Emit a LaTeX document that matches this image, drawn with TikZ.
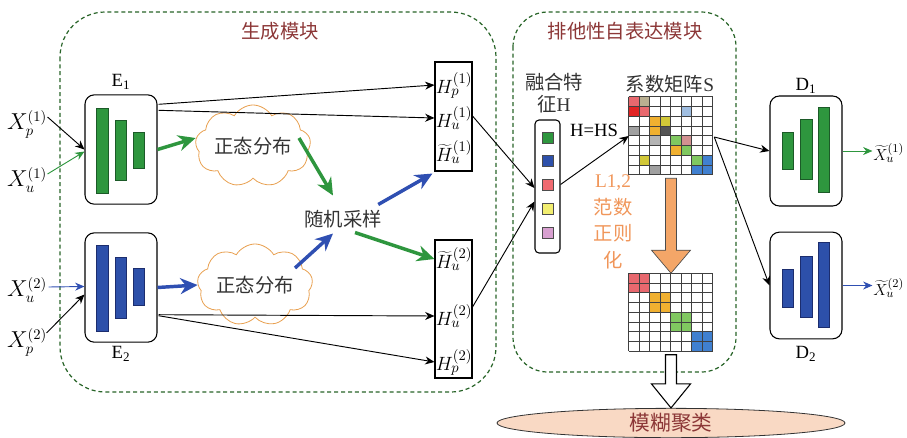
\documentclass[tikz,border=0pt]{standalone}
\usepackage{fontspec}
\setmainfont{Liberation Serif}
\newfontfamily\cjk{Noto Sans CJK SC}
\usetikzlibrary{arrows.meta,shapes.symbols,shapes.geometric,calc}
\newcommand{\zhs}[1]{{\cjk #1}}
\definecolor{gbar}{RGB}{46,150,62}
\definecolor{gbard}{RGB}{28,90,40}
\definecolor{bbar}{RGB}{45,80,170}
\definecolor{bbard}{RGB}{28,45,110}
\definecolor{garr}{RGB}{46,150,62}
\definecolor{barr}{RGB}{47,79,178}
\definecolor{dgreen}{RGB}{40,100,40}
\definecolor{ttl}{RGB}{140,55,55}
\definecolor{org}{RGB}{244,166,104}
\definecolor{orgtxt}{RGB}{240,150,90}
\definecolor{cloudc}{RGB}{232,160,80}
\definecolor{cpink}{RGB}{232,104,110}
\definecolor{cred}{RGB}{225,35,35}
\definecolor{ctan}{RGB}{185,175,145}
\definecolor{clblue}{RGB}{160,190,225}
\definecolor{corange}{RGB}{240,176,48}
\definecolor{colive}{RGB}{210,200,56}
\definecolor{cgray}{RGB}{160,160,160}
\definecolor{cdgray}{RGB}{85,85,85}
\definecolor{clgray}{RGB}{180,180,180}
\definecolor{cgreen}{RGB}{128,200,96}
\definecolor{cmauve}{RGB}{210,145,145}
\definecolor{cblue}{RGB}{64,128,208}
\definecolor{fgreen}{RGB}{46,150,62}
\definecolor{fblue}{RGB}{45,80,170}
\definecolor{fpink}{RGB}{240,106,112}
\definecolor{fyellow}{RGB}{242,238,112}
\definecolor{fpurple}{RGB}{216,160,208}
\definecolor{ellfill}{RGB}{249,217,196}
\begin{document}
\begin{tikzpicture}[x=0.75pt,y=-0.75pt,
  every node/.style={font=\fontsize{14}{16.5}\selectfont, inner sep=1pt},
  modbox/.style={draw=dgreen, dash pattern=on 3pt off 2.2pt, line width=0.9pt},
  ttlst/.style={text=ttl, font=\cjk\fontsize{14.5}{17}\selectfont},
  cjkt/.style={text=black!80, font=\cjk\fontsize{14.5}{17}\selectfont},
  encbox/.style={draw, rounded corners=7pt, line width=0.8pt, minimum width=54pt, minimum height=82pt, inner sep=0},
  gbarst/.style={draw=gbard, fill=gbar, line width=0.5pt},
  bbarst/.style={draw=bbard, fill=bbar, line width=0.5pt},
  thinarr/.style={draw, line width=0.7pt, -{Stealth[length=7pt,width=6pt]}},
  thickg/.style={draw=garr, line width=2.6pt, -{Stealth[length=13pt,width=12pt]}},
  thickb/.style={draw=barr, line width=2.6pt, -{Stealth[length=13pt,width=12pt]}},
  cloudst/.style={cloud, cloud puffs=9, cloud puff arc=120, aspect=1.7, draw=cloudc, line width=0.6pt, minimum width=70pt, minimum height=42pt, inner sep=0, text=black!80, font=\cjk\fontsize{14.5}{17}\selectfont},
  hbox/.style={draw, line width=0.8pt, minimum width=27.75pt, inner sep=0},
  gridst/.style={draw=black!75, line width=0.5pt},
  sq/.style={draw=black!70, line width=0.4pt, minimum size=8.25pt, inner sep=0},
  mathl/.style={font=\fontsize{16}{18}\selectfont}
]
\useasboundingbox (0,0) rectangle (907,437);

% module frames
\draw[modbox, rounded corners=34pt] (60,12) rectangle (496,392);
\draw[modbox, rounded corners=26pt] (513,12) rectangle (736,372);
\node[ttlst] (t1) at (280,31) {生成模块};
\node[ttlst] (t2) at (625,31) {排他性自表达模块};

% encoders
\node[encbox] (E1) at (121,149.5) {};
\node[encbox] (E2) at (121,287.5) {};
\node (e1l) at (121,82) {E\textsubscript{1}};
\node (e2l) at (121,354) {E\textsubscript{2}};
\draw[gbarst] (96,108) rectangle (108,193);
\draw[gbarst] (115,120) rectangle (126,180);
\draw[gbarst] (133,132) rectangle (144,168);
\draw[bbarst] (96,245) rectangle (108,331);
\draw[bbarst] (115,257) rectangle (126,318);
\draw[bbarst] (133,268) rectangle (144,305);

% inputs
\node[mathl] (xp1) at (27,124) {$X_p^{(1)}$};
\node[mathl] (xu1) at (27,180) {$X_u^{(1)}$};
\node[mathl] (xu2) at (27,290) {$X_u^{(2)}$};
\node[mathl] (xp2) at (27,342) {$X_p^{(2)}$};
\draw[thinarr] ($(xp1.east)+(-1,-7)$) -- ($(E1.west)+(0,0)$);
\draw[thinarr, draw=garr] ($(xu1.east)+(-1,-6)$) -- ($(E1.west)+(0,2)$);
\draw[thinarr, draw=barr] ($(xu2.east)+(0,-3)$) -- ($(E2.west)+(0,-1)$);
\draw[thinarr] ($(xp2.east)+(-2,-9)$) -- ($(E2.west)+(0,7)$);

% clouds
\node[cloudst] (c1) at (253,146) {正态分布};
\node[cloudst] (c2) at (255,285) {正态分布};
\node[cjkt] (rs) at (343,219) {随机采样};

% H boxes
\node[hbox, minimum height=81.75pt] (H1) at (453.5,116.5) {};
\node[hbox, minimum height=103.5pt] (H2) at (453.5,309) {};
\node[mathl, font=\fontsize{15}{17}\selectfont] (hp1) at (454,85) {$H_p^{(1)}$};
\node[mathl, font=\fontsize{15}{17}\selectfont] (hu1) at (454,118) {$H_u^{(1)}$};
\node[mathl, font=\fontsize{15}{17}\selectfont] (ht1) at (454,152) {$\widetilde{H}_u^{(1)}$};
\node[mathl, font=\fontsize{15}{17}\selectfont] (ht2) at (454,259) {$\widetilde{H}_u^{(2)}$};
\node[mathl, font=\fontsize{15}{17}\selectfont] (hu2) at (454,316) {$H_u^{(2)}$};
\node[mathl, font=\fontsize{15}{17}\selectfont] (hp2) at (454,362) {$H_p^{(2)}$};

% encoder -> H
\draw[thinarr] ($(E1.north east)+(1,10)$) -- (H1.west |- hp1);
\draw[thinarr] ($(E1.north east)+(1,16)$) -- (H1.west |- hu1);
\draw[thinarr] ($(E2.south east)+(1,-28)$) -- (H2.west |- hu2);
\draw[thinarr] ($(E2.south east)+(1,-27)$) -- (H2.west |- hp2);

% thick arrows
\draw[thickg] (E1.east) -- ($(c1.west)+(0,-8)$);
\draw[thickb] (E2.east) -- (c2.west);
\draw[thickg] ($(c1.center)+(46,-8)$) -- ($(rs.north)+(-10,-13)$);
\draw[thickb] ($(rs.north east)+(-5,-4)$) -- ($(H1.south west)+(-2,2)$);
\draw[thickb] ($(c2.center)+(40,-17)$) -- ($(rs.south)+(-10,4)$);
\draw[thickg] ($(rs.south)+(12,3)$) -- (H2.west |- ht2);

% fused feature
\node[draw, line width=0.8pt, rounded corners=3pt, minimum width=18.75pt, minimum height=99.75pt, inner sep=0] (F) at (547.5,186.5) {};
\node[cjkt, align=center, text=black!80] (fl) at (554,93) {融合特\\征\rmfamily H};
\node[sq, fill=fgreen] (q1) at (547.5,138) {};
\node[sq, fill=fblue] (q2) at (547.5,161) {};
\node[sq, fill=fpink] (q3) at (547.5,185) {};
\node[sq, fill=fyellow] (q4) at (547.5,209) {};
\node[sq, fill=fpurple] (q5) at (547.5,233) {};
\draw[thinarr] ($(H1.east |- hu1)+(0,-2)$) -- ($(F.west)+(0,1.5)$);
\draw[thinarr] ($(H2.east |- hu2)+(0,-9)$) -- ($(F.west)+(0,15)$);
\node (hhs) at (594,130) {H=HS};

% matrix S
\node[minimum width=63pt, minimum height=58.5pt, inner sep=0] (S) at (671,136) {};
\node[cjkt] (sl) at (670,84) {系数矩阵\rmfamily S};
\foreach \r/\c/\col in {0/0/cpink,0/1/ctan,1/0/cred,1/1/cpink,1/5/clblue,2/2/corange,2/3/colive,3/0/cgray,3/2/corange,3/3/cdgray,4/2/clgray,4/4/cgreen,4/5/cmauve,5/4/corange,5/5/cgreen,6/1/colive,6/6/cgreen,6/7/cblue,7/2/cgray,7/6/cblue,7/7/cblue}
  \fill[\col] ($(S.north west)+(\c*10.5,\r*9.75)$) rectangle +(10.5,9.75);
\foreach \i in {0,...,8} {
  \draw[gridst] ($(S.north west)+(\i*10.5,0)$) -- ++(0,78);
  \draw[gridst] ($(S.north west)+(0,\i*9.75)$) -- ++(84,0);
}
\draw[thinarr] ($(F.east)+(0,-2)$) -- (S.west);

% matrix S2
\node[minimum width=63pt, minimum height=58.5pt, inner sep=0] (S2) at (671,312.5) {};
\foreach \r/\c/\col in {0/0/cpink,0/1/cpink,1/0/cpink,1/1/cpink,2/2/corange,2/3/corange,3/2/corange,3/3/corange,4/4/cgreen,4/5/cgreen,5/4/cgreen,5/5/cgreen,6/6/cblue,6/7/cblue,7/6/cblue,7/7/cblue}
  \fill[\col] ($(S2.north west)+(\c*10.5,\r*9.75)$) rectangle +(10.5,9.75);
\foreach \i in {0,...,8} {
  \draw[gridst] ($(S2.north west)+(\i*10.5,0)$) -- ++(0,78);
  \draw[gridst] ($(S2.north west)+(0,\i*9.75)$) -- ++(84,0);
}

% orange regularisation arrow
\draw[fill=org, draw=black!70, line width=0.5pt]
  ($(S.south)+(-5.5,3)$) -- ($(S.south)+(5.5,3)$) -- ($(S2.north)+(5.5,-23)$) -- ($(S2.north)+(19.5,-23)$)
  -- (S2.north) -- ($(S2.north)+(-19.5,-23)$) -- ($(S2.north)+(-5.5,-23)$) -- cycle;
\node[text=orgtxt, align=center, font=\fontsize{14.5}{20}\selectfont] (lreg) at (613,222) {L1,2\\\zhs{范数}\\\zhs{正则}\\\zhs{化}};

% clustering
\node[ellipse, draw=black!80, fill=ellfill, line width=0.6pt, minimum width=261pt, minimum height=22pt, inner sep=0] (clu) at (671,423) {};
\node[text=ttl, font=\cjk\fontsize{15.5}{17}\selectfont] (clt) at (671,423) {模糊聚类};
\draw[fill=white, draw=black, line width=0.8pt]
  ($(S2.south)+(-5.5,3)$) -- ($(S2.south)+(5.5,3)$) -- ($(clu.north)+(5.5,-24)$) -- ($(clu.north)+(19.5,-24)$)
  -- (clu.north) -- ($(clu.north)+(-19.5,-24)$) -- ($(clu.north)+(-5.5,-24)$) -- cycle;

% decoders
\node[encbox, minimum height=82.5pt] (D1) at (806,151) {};
\node[encbox, minimum height=80pt] (D2) at (806,285.5) {};
\node (d1l) at (806,86) {D\textsubscript{1}};
\node (d2l) at (806,354) {D\textsubscript{2}};
\draw[gbarst] (782,132) rectangle (793,169);
\draw[gbarst] (800,119) rectangle (812,179);
\draw[gbarst] (818,107) rectangle (829,192);
\draw[bbarst] (782,269) rectangle (793,307);
\draw[bbarst] (800,256) rectangle (812,317);
\draw[bbarst] (818,242) rectangle (829,327);
\draw[thinarr] ($(S.east)+(1,1)$) -- (D1.west);
\draw[thinarr] ($(S.east)+(1,1)$) -- (D2.west);
\node[font=\fontsize{13}{15}\selectfont, anchor=east, inner sep=0.5pt] (xo1) at (905,153) {$\widetilde{X}_u^{(1)}$};
\node[font=\fontsize{13}{15}\selectfont, anchor=east, inner sep=0.5pt] (xo2) at (905,288) {$\widetilde{X}_u^{(2)}$};
\draw[thinarr, draw=garr] (D1.east) -- (xo1.west |- D1.east);
\draw[thinarr, draw=barr] (D2.east) -- (xo2.west |- D2.east);
\end{tikzpicture}
\end{document}
